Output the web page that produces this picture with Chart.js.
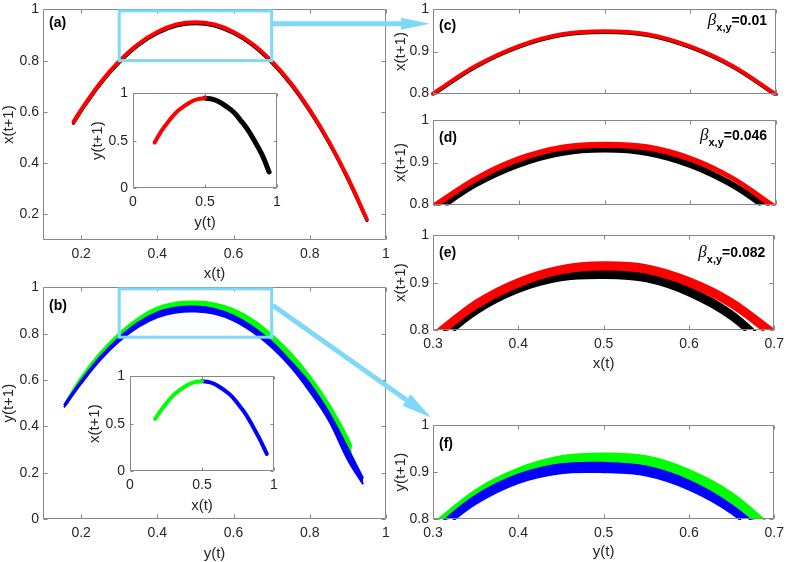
<!DOCTYPE html>
<html>
<head>
<meta charset="utf-8">
<script src="https://cdn.jsdelivr.net/npm/chart.js@4.4.1/dist/chart.umd.min.js"></script>
<style>
  html, body { margin: 0; padding: 0; background: #fff; }
  #fig { position: relative; width: 787px; height: 562px; overflow: hidden; background: #fff; }
  #fig canvas { position: absolute; }
</style>
</head>
<body>
<div id="fig"></div>
<script>
// ---- data ----

// (a) x(t) -> x(t+1), red on top of a thin black curve
const aX     = [0.18, 0.20, 0.25, 0.30, 0.35, 0.40, 0.45, 0.50, 0.55, 0.60, 0.65, 0.70, 0.75, 0.80, 0.85, 0.90, 0.95];
const aRed   = [0.561, 0.608, 0.713, 0.798, 0.865, 0.912, 0.941, 0.950, 0.941, 0.912, 0.865, 0.798, 0.713, 0.608, 0.485, 0.342, 0.180];
const aBlack = [0.555, 0.602, 0.707, 0.792, 0.859, 0.906, 0.935, 0.944, 0.935, 0.906, 0.859, 0.792, 0.707, 0.602, 0.479, 0.336, 0.176];

// inset of (a): y(t) -> y(t+1)
const iaRedX   = [0.15, 0.20, 0.25, 0.30, 0.35, 0.40, 0.45, 0.50];
const iaRedY   = [0.48, 0.61, 0.71, 0.80, 0.86, 0.91, 0.94, 0.95];
const iaBlackX = [0.50, 0.55, 0.60, 0.65, 0.70, 0.75, 0.80, 0.85, 0.90, 0.945];
const iaBlackY = [0.95, 0.94, 0.91, 0.86, 0.80, 0.71, 0.61, 0.48, 0.34, 0.17];

// (b) y(t) -> y(t+1), green band above blue band
const bBlueX  = [0.155, 0.20, 0.25, 0.30, 0.35, 0.40, 0.45, 0.50, 0.55, 0.60, 0.65, 0.70, 0.75, 0.80, 0.85, 0.90, 0.94];
const bBlueHi = [0.492, 0.596, 0.700, 0.783, 0.848, 0.892, 0.913, 0.917, 0.907, 0.878, 0.830, 0.765, 0.680, 0.585, 0.460, 0.305, 0.175];
const bBlueLo = [0.482, 0.584, 0.686, 0.767, 0.829, 0.871, 0.892, 0.896, 0.886, 0.857, 0.808, 0.742, 0.657, 0.550, 0.425, 0.255, 0.150];
const bGreenX  = [0.16, 0.20, 0.25, 0.30, 0.35, 0.40, 0.45, 0.50, 0.55, 0.60, 0.65, 0.70, 0.75, 0.80, 0.85, 0.90, 0.91];
const bGreenHi = [0.505, 0.612, 0.718, 0.802, 0.868, 0.913, 0.935, 0.939, 0.931, 0.906, 0.861, 0.797, 0.717, 0.617, 0.497, 0.350, 0.310];
const bGreenLo = [0.490, 0.597, 0.700, 0.785, 0.850, 0.893, 0.915, 0.918, 0.908, 0.880, 0.833, 0.768, 0.685, 0.580, 0.455, 0.305, 0.265];

// inset of (b): x(t) -> x(t+1)
const ibGreenX = [0.175, 0.20, 0.25, 0.30, 0.35, 0.40, 0.45, 0.50];
const ibGreenY = [0.55, 0.61, 0.71, 0.80, 0.86, 0.91, 0.94, 0.95];
const ibBlueX  = [0.50, 0.55, 0.60, 0.65, 0.70, 0.75, 0.80, 0.85, 0.90, 0.95];
const ibBlueY  = [0.95, 0.94, 0.91, 0.86, 0.80, 0.71, 0.61, 0.48, 0.34, 0.18];

// zoomed panels share the same x samples
const zX = [0.30, 0.35, 0.40, 0.45, 0.50, 0.55, 0.60, 0.65, 0.70];
// (c) beta = 0.01
const cRed   = [0.800, 0.866, 0.913, 0.941, 0.948, 0.941, 0.912, 0.865, 0.798];
const cBlack = [0.797, 0.863, 0.910, 0.938, 0.945, 0.938, 0.909, 0.862, 0.795];
// (d) beta = 0.046
const dRedHi   = [0.800, 0.866, 0.913, 0.940, 0.947, 0.941, 0.914, 0.866, 0.797];
const dRedLo   = [0.790, 0.856, 0.903, 0.930, 0.937, 0.931, 0.904, 0.858, 0.785];
const dBlackHi = [0.788, 0.855, 0.902, 0.930, 0.937, 0.930, 0.901, 0.852, 0.784];
const dBlackLo = [0.775, 0.843, 0.890, 0.918, 0.926, 0.918, 0.889, 0.840, 0.770];
// (e) beta = 0.082
const eRedHi   = [0.793, 0.862, 0.908, 0.935, 0.943, 0.937, 0.910, 0.866, 0.800];
const eRedLo   = [0.775, 0.845, 0.892, 0.920, 0.928, 0.921, 0.893, 0.848, 0.780];
const eBlackHi = [0.778, 0.850, 0.895, 0.921, 0.926, 0.920, 0.890, 0.840, 0.760];
const eBlackLo = [0.760, 0.833, 0.880, 0.905, 0.910, 0.903, 0.873, 0.822, 0.740];
// (f) y-series zoom
const fGreenHi = [0.790, 0.862, 0.908, 0.934, 0.940, 0.934, 0.905, 0.856, 0.780];
const fGreenLo = [0.775, 0.845, 0.893, 0.918, 0.922, 0.914, 0.885, 0.835, 0.760];
const fBlueHi  = [0.778, 0.850, 0.895, 0.917, 0.920, 0.912, 0.882, 0.830, 0.755];
const fBlueLo  = [0.762, 0.832, 0.877, 0.898, 0.900, 0.893, 0.863, 0.812, 0.735];

// tick values
const mainTicksX = [0.2, 0.4, 0.6, 0.8, 1];
const aTicksY    = [0.2, 0.4, 0.6, 0.8, 1];
const bTicksY    = [0, 0.2, 0.4, 0.6, 0.8, 1];
const insetTicks = [0, 0.5, 1];
const zoomTicksX = [0.3, 0.4, 0.5, 0.6, 0.7];
const zoomTicksY = [0.8, 0.9, 1];

// zoom rectangles drawn on (a) and (b): [x0, x1, y0, y1]
const zoomBoxA = [0.3, 0.7, 0.8, 1.0];
const zoomBoxB = [0.3, 0.7, 0.785, 1.0];

// ---- drawing ----
const FONT = "'Liberation Sans', Arial, Helvetica, sans-serif";
const TXT = '#262626';
const FRAME = '#868686';
const CYAN = '#80d8f8';
const RED = '#ff0000', BLACK = '#000000', GREEN = '#00ff00', BLUE = '#0000ff';

Chart.defaults.font.family = FONT;
Chart.defaults.color = TXT;

const pts = (xs, ys) => xs.map((x, i) => ({ x: x, y: ys[i] }));

// note: Chart.js paints dataset 0 last, so list the top-most series first
function curve(xs, ys, color, width) {
  return { data: pts(xs, ys), borderColor: color, backgroundColor: color, borderWidth: width,
    borderCapStyle: 'round', pointRadius: 0, fill: false, tension: 0.36, clip: 2 };
}
// a band = upper edge, then lower edge filled back to it
function band(xs, hi, lo, color) {
  return [
    { data: pts(xs, hi), borderColor: color, backgroundColor: color, borderWidth: 2,
      pointRadius: 0, fill: false, tension: 0.36, clip: 1 },
    { data: pts(xs, lo), borderColor: color, backgroundColor: color, borderWidth: 2,
      pointRadius: 0, fill: '-1', tension: 0.36, clip: 1 }
  ];
}

// MATLAB style box with inward ticks on all sides
const matBox = {
  id: 'matBox',
  beforeDatasetsDraw(chart) {
    if (!chart.$inset) return;
    const a = chart.chartArea;
    chart.ctx.save();
    chart.ctx.fillStyle = '#fff';
    chart.ctx.fillRect(a.left, a.top, a.right - a.left, a.bottom - a.top);
    chart.ctx.restore();
  },
  afterDatasetsDraw(chart) {
    const { ctx, chartArea: a, scales } = chart;
    const tl = chart.$inset ? 3 : 4;
    ctx.save();
    ctx.strokeStyle = FRAME;
    ctx.lineWidth = 1;
    const L = Math.round(a.left) + 0.5, R = Math.round(a.right) - 0.5;
    const T = Math.round(a.top) + 0.5, B = Math.round(a.bottom) - 0.5;
    ctx.beginPath();
    ctx.rect(L, T, R - L, B - T);
    scales.x.ticks.forEach(t => {
      const px = Math.round(scales.x.getPixelForValue(t.value)) + 0.5;
      ctx.moveTo(px, B); ctx.lineTo(px, B - tl);
      ctx.moveTo(px, T); ctx.lineTo(px, T + tl);
    });
    scales.y.ticks.forEach(t => {
      const py = Math.round(scales.y.getPixelForValue(t.value)) + 0.5;
      ctx.moveTo(L, py); ctx.lineTo(L + tl, py);
      ctx.moveTo(R, py); ctx.lineTo(R - tl, py);
    });
    ctx.stroke();
    ctx.restore();
  },
  afterDraw(chart) {
    const o = chart.$text;
    if (!o) return;
    const { ctx, chartArea: a } = chart;
    ctx.save();
    ctx.fillStyle = '#000';
    ctx.textBaseline = 'alphabetic';
    ctx.textAlign = 'left';
    ctx.font = 'bold 14px ' + FONT;
    ctx.fillText(o.label, a.left + 6, a.top + o.labelDy);
    if (o.beta) {
      ctx.font = "italic 17px 'Liberation Serif', 'Times New Roman', serif";
      const wB = ctx.measureText('\u03b2').width;
      ctx.font = 'bold 11px ' + FONT;
      const wS = ctx.measureText('x,y').width;
      ctx.font = 'bold 14px ' + FONT;
      const wE = ctx.measureText('=' + o.beta).width;
      let x = a.right - 9 - (wB + wS + wE);
      const base = a.top + o.betaDy;
      ctx.font = "italic 17px 'Liberation Serif', 'Times New Roman', serif";
      ctx.fillText('\u03b2', x, base);
      x += wB;
      ctx.font = 'bold 11px ' + FONT;
      ctx.fillText('x,y', x, base + 6);
      x += wS;
      ctx.font = 'bold 14px ' + FONT;
      ctx.fillText('=' + o.beta, x, base);
    }
    ctx.restore();
  }
};

const fig = document.getElementById('fig');

// box = [left, top, width, height] of the plot area on the page
function panel(box, p) {
  const padTop = 10, padRight = 14;
  const cv = document.createElement('canvas');
  const left = box[0] - p.yW, top = box[1] - padTop;
  cv.width = p.yW + box[2] + padRight;
  cv.height = padTop + box[3] + p.xH;
  cv.style.left = left + 'px';
  cv.style.top = top + 'px';
  fig.appendChild(cv);

  const chart = new Chart(cv, {
    type: 'line',
    data: { datasets: p.datasets },
    options: {
      responsive: false, animation: false, events: [],
      layout: { padding: { top: padTop, right: padRight, left: 0, bottom: 0 } },
      plugins: { legend: { display: false }, tooltip: { enabled: false } },
      scales: {
        x: {
          type: 'linear', min: p.xRange[0], max: p.xRange[1],
          afterBuildTicks: s => { s.ticks = p.xTicks.map(v => ({ value: v })); },
          afterFit: s => { s.height = p.xH; },
          grid: { display: false, drawTicks: false }, border: { display: false },
          ticks: { padding: p.xPad || 6, autoSkip: false, maxRotation: 0, color: TXT,
            font: { size: 14 }, callback: v => p.xTitle ? String(v) : '' },
          title: { display: !!p.xTitle, text: p.xTitle || '', padding: 0, color: TXT, font: { size: 15 } }
        },
        y: {
          type: 'linear', min: p.yRange[0], max: p.yRange[1],
          afterBuildTicks: s => { s.ticks = p.yTicks.map(v => ({ value: v })); },
          afterFit: s => { s.width = p.yW; },
          grid: { display: false, drawTicks: false }, border: { display: false },
          ticks: { padding: p.yPad || 4, autoSkip: false, color: TXT, font: { size: 14 },
            callback: v => String(v) },
          title: { display: true, text: p.yTitle, padding: 0, color: TXT, font: { size: 15 } }
        }
      }
    },
    plugins: [matBox]
  });
  chart.$off = [left, top];
  chart.$inset = !!p.inset;
  chart.$text = p.text || null;
  chart.draw();
  return chart;
}

const chA = panel([43, 7, 343, 233], {
  yW: 43, xH: 43, xPad: 6, xRange: [0.1, 1], yRange: [0.1, 1],
  xTicks: mainTicksX, yTicks: aTicksY, xTitle: 'x(t)', yTitle: 'x(t+1)',
  text: { label: '(a)', labelDy: 18 },
  datasets: [curve(aX, aRed, RED, 4), curve(aX, aBlack, BLACK, 3)]
});

const chIA = panel([133, 90, 144, 98], {
  inset: true, yW: 44, xH: 44, xPad: 6, yPad: 5, xRange: [0, 1], yRange: [0, 1],
  xTicks: insetTicks, yTicks: insetTicks, xTitle: 'y(t)', yTitle: 'y(t+1)',
  datasets: [curve(iaRedX, iaRedY, RED, 4), curve(iaBlackX, iaBlackY, BLACK, 5)]
});

const chB = panel([43, 285, 343, 234], {
  yW: 43, xH: 44, xPad: 6, xRange: [0.1, 1], yRange: [0, 1],
  xTicks: mainTicksX, yTicks: bTicksY, xTitle: 'y(t)', yTitle: 'y(t+1)',
  text: { label: '(b)', labelDy: 23 },
  datasets: [...band(bBlueX, bBlueHi, bBlueLo, BLUE), ...band(bGreenX, bGreenHi, bGreenLo, GREEN)]
});

const chIB = panel([130, 373, 144, 98], {
  inset: true, yW: 44, xH: 44, xPad: 6, yPad: 5, xRange: [0, 1], yRange: [0, 1],
  xTicks: insetTicks, yTicks: insetTicks, xTitle: 'x(t)', yTitle: 'x(t+1)',
  datasets: [curve(ibGreenX, ibGreenY, GREEN, 4), curve(ibBlueX, ibBlueY, BLUE, 4)]
});

const zoomCommon = { yW: 41, xRange: [0.3, 0.7], yRange: [0.8, 1], xTicks: zoomTicksX, yTicks: zoomTicksY };

const chC = panel([433, 7, 343, 95], Object.assign({}, zoomCommon, {
  xH: 4, yTitle: 'x(t+1)',
  text: { label: '(c)', labelDy: 21, beta: '0.01', betaDy: 16 },
  datasets: [curve(zX, cRed, RED, 4), curve(zX, cBlack, BLACK, 3)]
}));

const chD = panel([433, 118, 343, 95], Object.assign({}, zoomCommon, {
  xH: 4, yTitle: 'x(t+1)',
  text: { label: '(d)', labelDy: 22, beta: '0.046', betaDy: 20 },
  datasets: [...band(zX, dRedHi, dRedLo, RED), ...band(zX, dBlackHi, dBlackLo, BLACK)]
}));

const chE = panel([433, 233, 343, 97], Object.assign({}, zoomCommon, {
  xH: 43, xPad: 6, xTitle: 'x(t)', yTitle: 'x(t+1)',
  text: { label: '(e)', labelDy: 22, beta: '0.082', betaDy: 22 },
  datasets: [...band(zX, eRedHi, eRedLo, RED), ...band(zX, eBlackHi, eBlackLo, BLACK)]
}));

const chF = panel([433, 423, 343, 96], Object.assign({}, zoomCommon, {
  xH: 42, xPad: 6, xTitle: 'y(t)', yTitle: 'y(t+1)',
  text: { label: '(f)', labelDy: 23 },
  datasets: [...band(zX, fBlueHi, fBlueLo, BLUE), ...band(zX, fGreenHi, fGreenLo, GREEN)]
}));

// ---- zoom boxes and arrows on top of everything ----
const ov = document.createElement('canvas');
ov.width = 787; ov.height = 562;
ov.style.left = '0px'; ov.style.top = '0px';
fig.appendChild(ov);
const g = ov.getContext('2d');

function px(ch, v) { return ch.$off[0] + ch.scales.x.getPixelForValue(v); }
function py(ch, v) { return ch.$off[1] + ch.scales.y.getPixelForValue(v); }

function zoomRect(ch, b) {
  const x0 = px(ch, b[0]), x1 = px(ch, b[1]), y0 = py(ch, b[3]), y1 = py(ch, b[2]);
  g.strokeRect(x0, y0 + 1.5, x1 - x0, y1 - y0 - 1.5);
}

function arrow(x0, y0, x1, y1, w, len, half) {
  const ang = Math.atan2(y1 - y0, x1 - x0);
  const bx = x1 - len * Math.cos(ang), by = y1 - len * Math.sin(ang);
  g.lineWidth = w;
  g.beginPath(); g.moveTo(x0, y0); g.lineTo(bx, by); g.stroke();
  g.beginPath();
  g.moveTo(x1, y1);
  g.lineTo(bx + half * Math.sin(ang), by - half * Math.cos(ang));
  g.lineTo(bx - half * Math.sin(ang), by + half * Math.cos(ang));
  g.closePath(); g.fill();
}

g.strokeStyle = CYAN; g.fillStyle = CYAN; g.lineWidth = 3;
zoomRect(chA, zoomBoxA);
zoomRect(chB, zoomBoxB);

const cArea = chC.chartArea, fArea = chF.chartArea;
const a1y = py(chA, 0.944);
arrow(px(chA, 0.7) + 1, a1y, chC.$off[0] + cArea.left - 3, a1y, 5, 29, 6);
arrow(px(chB, 0.7) + 1, py(chB, 0.923), chF.$off[0] + fArea.left - 2, chF.$off[1] + fArea.top - 8, 5, 30, 7);
</script>
</body>
</html>
